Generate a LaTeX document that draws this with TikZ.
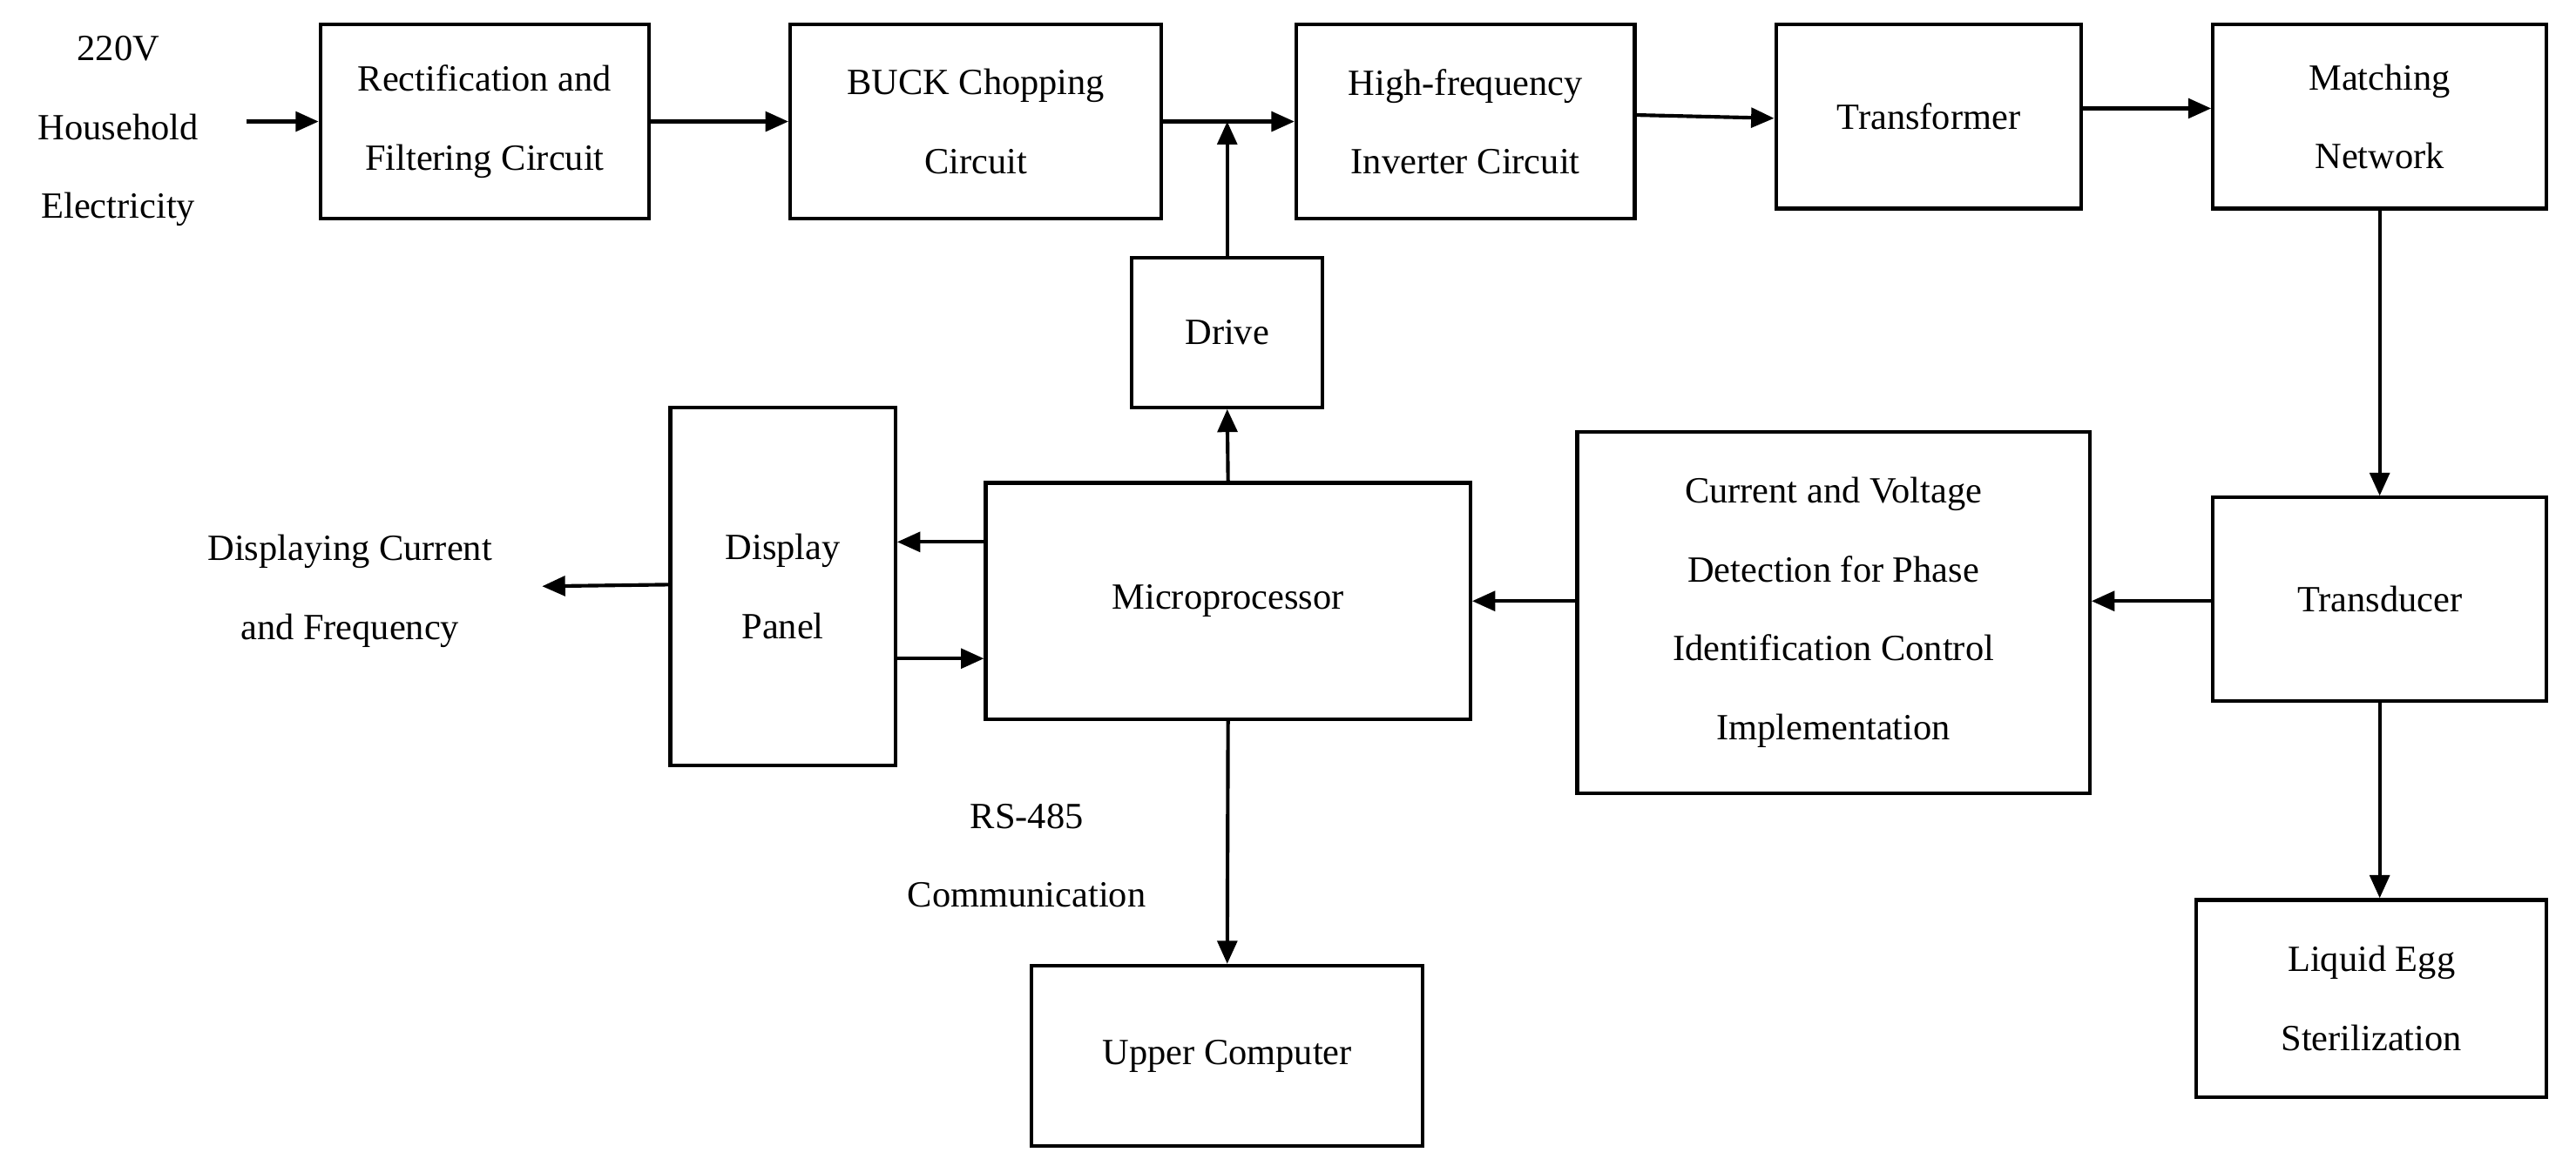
\documentclass[tikz,border=0pt]{standalone}
\usepackage{fontspec}
\setmainfont{Liberation Serif}
\usetikzlibrary{arrows.meta}
\begin{document}
\begin{tikzpicture}[x=1pt,y=-1pt,
  box/.style={draw,line width=2.2pt,inner sep=0pt,align=center,font=\fontsize{22.5}{48}\selectfont},
  lbl/.style={align=center,font=\fontsize{22.5}{48}\selectfont,inner sep=0pt},
  arr/.style={line width=2.2pt,-{Triangle[length=14pt,width=12pt]}}]
\useasboundingbox (0,0) rectangle (1568,710);
\newcommand{\bx}[6]{\node[box,minimum width=#4-#2,minimum height=#5-#3] (#1) at ({(#2+#4)/2},{(#3+#5)/2}) {#6};}
\bx{rf}{195}{15}{395}{133}{Rectification and\\Filtering Circuit}
\bx{buck}{481}{15}{707}{133}{BUCK Chopping\\Circuit}
\bx{hf}{789}{15}{995}{133}{High-frequency\\Inverter Circuit}
\bx{tr}{1081}{15}{1267}{127}{Transformer}
\bx{mn}{1347}{15}{1550}{127}{Matching\\Network}
\bx{dr}{689}{157}{805}{248}{Drive}
\bx{dp}{408}{248}{545}{466}{Display\\Panel}
\bx{mp}{600}{294}{895}{438}{Microprocessor}
\bx{cv}{960}{263}{1272}{483}{Current and Voltage\\Detection for Phase\\Identification Control\\Implementation}
\bx{td}{1347}{303}{1550}{427}{Transducer}
\bx{le}{1337}{548}{1550}{668}{Liquid Egg\\Sterilization}
\bx{uc}{628}{588}{866}{698}{Upper Computer}
\node[lbl] (in) at (72,80) {220V\\Household\\Electricity};
\node[lbl] (out) at (213,360) {Displaying Current\\and Frequency};
\node[lbl] (rs) at (625,521) {RS-485\\Communication};
\coordinate (s) at (150,74);
\coordinate (o) at (330,357);
\coordinate (j) at (747,74);
\draw[arr] (s) -- (rf.west|-s);
\draw[arr] (rf.east|-s) -- (buck.west|-s);
\draw[arr] (buck.east|-s) -- (hf.west|-s);
\draw[arr] (dr.north) -- (j);
\draw[arr] (995,70) -- (tr.west|-0,72);
\draw[arr] (tr.east|-0,66) -- (mn.west|-0,66);
\draw[arr] (mn.south) -- (td.north);
\draw[arr] (td.west|-0,366) -- (cv.east|-0,366);
\draw[arr] (cv.west|-0,366) -- (mp.east|-0,366);
\draw[arr] (mp.west|-0,330) -- (dp.east|-0,330);
\draw[arr] (dp.east|-0,401) -- (mp.west|-0,401);
\draw[arr] (dp.west|-0,356) -- (o);
\draw[arr] (mp.north) -- (dr.south);
\draw[arr] (mp.south) -- (uc.north);
\draw[arr] (td.south) -- (le.north-|td.south);
\end{tikzpicture}
\end{document}
